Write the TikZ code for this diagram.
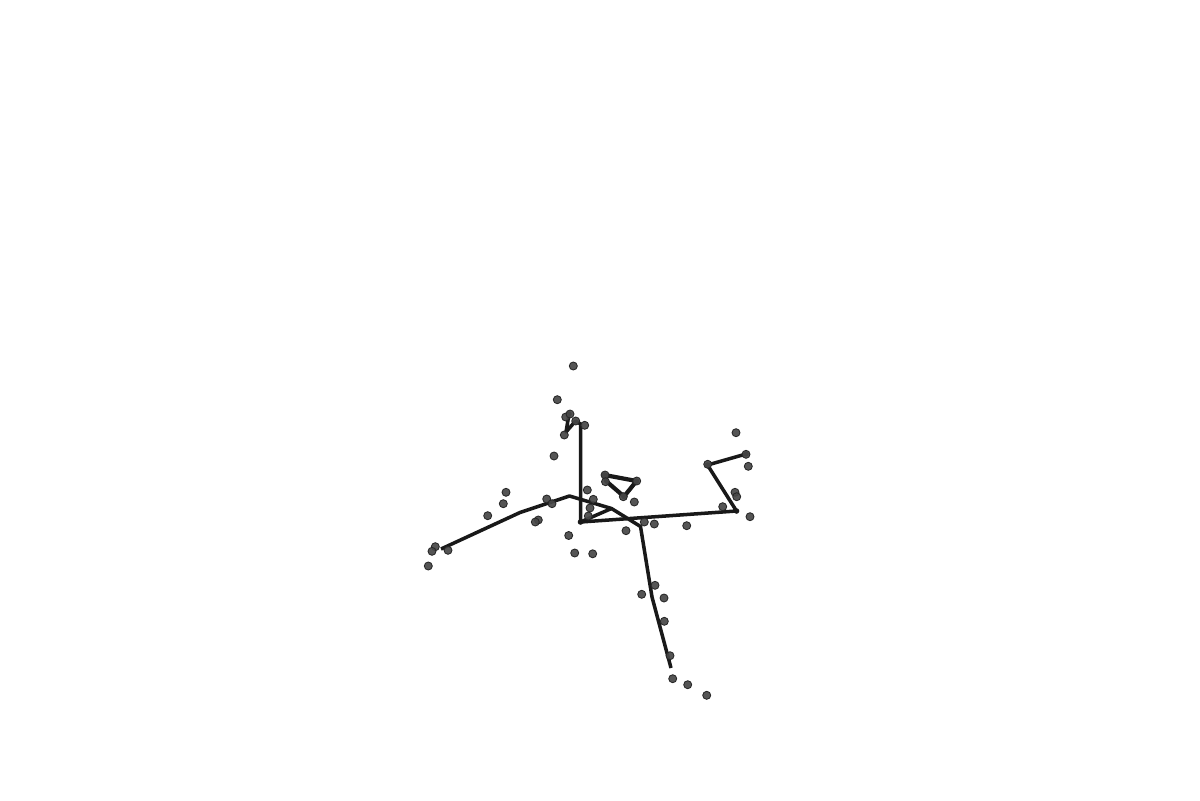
\documentclass[tikz,border=0pt]{standalone}
\tikzset{
  bone/.style={draw=black!90, line width=2.5pt, line join=round, line cap=butt},
  joint/.style={fill=black!90},
  marker/.style={fill=black!72, draw=black!85, line width=0.6pt, fill opacity=0.92}
}
\begin{document}
\begin{tikzpicture}[x=0.025cm,y=-0.025cm]
  \fill[white] (0,0) rectangle (1200,800);
  \useasboundingbox (0,0) rectangle (1200,800);

  % skeleton joints
  \coordinate (pelvis) at (580.5,522);
  \coordinate (neck) at (580.5,424);
  \coordinate (headA) at (575.5,421);
  \coordinate (headB) at (566,432);
  \coordinate (headC) at (569,414);
  \coordinate (chest) at (569.5,496);
  \coordinate (elbowL) at (520,512.5);
  \coordinate (handL) at (441,549);
  \coordinate (hipR) at (611.5,508.5);
  \coordinate (kneeR) at (640.5,526.5);
  \coordinate (shinR) at (652,597);
  \coordinate (footR) at (671,668);
  \coordinate (handR) at (736.5,511);
  \coordinate (elbowR) at (707.5,465);
  \coordinate (wristR) at (746,454);
  \coordinate (triA) at (604.5,475);
  \coordinate (triD) at (606,481);
  \coordinate (triB) at (636.5,481);
  \coordinate (triC) at (624,496.5);

  % bones
  \draw[bone] (pelvis) -- (neck) -- (headA) -- (headB) -- (headC);
  \draw[bone] (handL) -- (elbowL) -- (chest) -- (hipR) -- (kneeR) -- (shinR) -- (footR);
  \draw[bone] (pelvis) -- (hipR);
  \draw[bone] (pelvis) -- (handR) -- (elbowR) -- (wristR);
  \draw[bone, line width=3pt] (triA) -- (triB) -- (triC) -- (triD) -- cycle;
  \foreach \j in {pelvis,headC,elbowR,wristR,triA,triB,triC,handR}
    \fill[joint] (\j) circle [radius=0.07cm];

  % observed markers
  \foreach \px/\py in {573.3/366, 557.3/399.7, 565.7/417, 570/414, 575.7/421,
      584.7/425.3, 564.3/435, 554/456, 506/492.3, 503.3/503.7, 487.7/515.7,
      546.7/499, 552/503.7, 538.3/520, 535.3/522, 587.3/490, 593.3/499.3,
      590/508, 588.3/516, 568.7/535.5, 574.7/553, 592.7/553.8, 435.3/546.7,
      432/551.3, 448/550.3, 428.3/566, 605/475, 605.5/481.7, 636.7/481,
      623.3/496.7, 634.3/502, 736/432.7, 746/454.3, 748.3/466.3, 707.7/464.3,
      722.7/506.7, 735/492.3, 736.7/496.7, 750/516.7, 644.3/522, 654.3/524,
      686.7/525.7, 626/530.7, 655/585.3, 641.7/594.3, 664/598, 664.3/621.3,
      670/655.7, 672.7/678.7, 687.7/684.7, 706.7/695.3}
    \path[marker] (\px,\py) circle [radius=0.1cm];
\end{tikzpicture}
\end{document}
